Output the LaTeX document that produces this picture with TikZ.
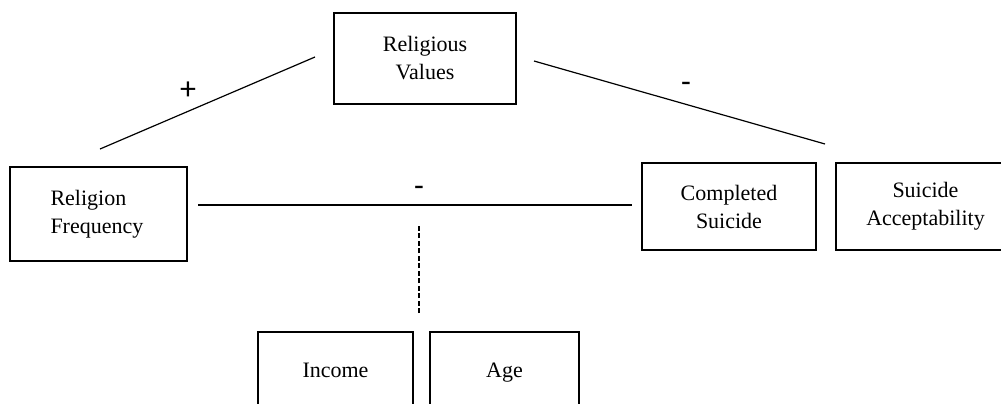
\documentclass[tikz,border=0pt]{standalone}
\usepackage{fontspec}
\setmainfont{Liberation Serif}
\newfontfamily\signfont{Carlito}
\usetikzlibrary{positioning,calc}

\begin{document}
\begin{tikzpicture}[x=0.5pt, y=-0.5pt,
        box/.style={rectangle, draw, line width=1pt, inner sep=0pt, align=center, font=\fontsize{11}{14}\selectfont},
        onebox/.style={box, text height=0.7em, text depth=0.22em},
        link/.style={line width=0.6pt},
        covlink/.style={line width=0.6pt, dash pattern=on 2.5pt off 1.25pt},
        sign/.style={font=\signfont\fontsize{16}{16}\selectfont, inner sep=0pt}]

        \useasboundingbox (0,0) rectangle (1001,403);
        \clip (0,0) rectangle (1001,403);

        \node[box, minimum width=91pt, minimum height=45.5pt] (values) at (425,58.5) {Religious\\Values};
        \node[box, minimum width=88.5pt, minimum height=47pt, align=left, text width=48pt] (freq) at (98.5,214) {Religion\\Frequency};
        \node[box, minimum width=87pt, minimum height=43.5pt] (comp) at (729,206.5) {Completed\\Suicide};
        \node[box, minimum width=89.5pt, minimum height=43.5pt, right=9pt of comp] (accept) {Suicide\\Acceptability};
        \node[onebox, minimum width=77.5pt, minimum height=41pt] (income) at (335.5,373) {Income};
        \node[onebox, minimum width=74.5pt, minimum height=41pt, right=7.5pt of income] (age) {Age};

        \coordinate (gapr) at ($(comp.north east)!0.5!(accept.north west)$);
        \coordinate (gapb) at ($(income.north east)!0.5!(age.north west)$);
        \coordinate (midline) at ($(freq.east |- comp.west)!0.5!(comp.west)$);

        \draw[link] ([shift={(1.5,-17)}]freq.north) -- node[sign, xshift=-9.75pt, yshift=6.25pt] {+} ([shift={(-18,-1.5)}]values.west);
        \draw[link] ([shift={(17,2.5)}]values.east) -- node[sign, xshift=3.25pt, yshift=7.5pt] {-} ([shift={(-1,-18)}]gapr);
        \draw[link] ([shift={(10,-1.5)}]freq.east |- comp.west) -- node[sign, xshift=2pt, yshift=7pt] {-} ([shift={(-9,-1.5)}]comp.west);
        \draw[covlink, shorten <=9pt, shorten >=9pt] ([xshift=-1.25pt]gapb) -- ([xshift=-1.25pt]gapb |- midline);
    \end{tikzpicture}
\end{document}
